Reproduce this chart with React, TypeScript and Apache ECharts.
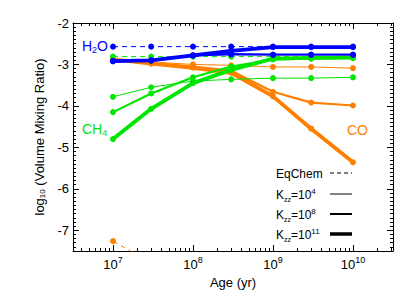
import React, { useEffect, useRef } from "react";
import * as echarts from "echarts";

const AGES = [1e7, 3e7, 1e8, 3e8, 1e9, 3e9, 1e10];

const H2O_EQ = [-2.57, -2.57, -2.57, -2.57, -2.57, -2.57, -2.57];
const H2O_K4 = [-2.92, -2.91, -2.79, -2.76, -2.77, -2.77, -2.77];
const H2O_K8 = [-2.92, -2.90, -2.78, -2.75, -2.76, -2.76, -2.76];
const H2O_K11 = [-2.92, -2.90, -2.78, -2.67, -2.58, -2.58, -2.58];

const CH4_EQ = [-2.81, -2.81, -2.81, -2.81, -2.81, -2.81, -2.81];
const CH4_K4 = [-3.78, -3.55, -3.40, -3.36, -3.33, -3.33, -3.31];
const CH4_K8 = [-4.15, -3.70, -3.31, -3.05, -2.88, -2.86, -2.85];
const CH4_K11 = [-4.80, -4.07, -3.45, -3.13, -2.86, -2.84, -2.83];

const CO_EQ = [-7.26, -7.79, -8.3, -8.8, -9.3, -9.8, -10.2];
const CO_K4 = [-2.88, -2.94, -3.0, -3.02, -3.06, -3.06, -3.09];
const CO_K8 = [-2.88, -2.96, -3.05, -3.15, -3.66, -3.92, -3.99];
const CO_K11 = [-2.88, -2.98, -3.08, -3.2, -3.77, -4.55, -5.36];

const X_MAJOR = [7, 8, 9, 10];
const Y_MAJOR = [-7, -6, -5, -4, -3, -2];

const BLUE = "#0000ff";
const GREEN = "#00e600";
const ORANGE = "#ff8000";
const FONT = "Liberation Sans";

const X_MIN = 6.5;
const X_MAX = 10.5;
const Y_MIN = -7.5;
const Y_MAX = -2;

function xMinorTicks(): number[] {
  const out: number[] = [];
  for (let d = 6; d <= 10; d++) {
    for (let k = 2; k <= 9; k++) {
      const v = d + Math.log10(k);
      if (v > X_MIN && v < X_MAX) out.push(v);
    }
  }
  return out;
}

function yMinorTicks(): number[] {
  const out: number[] = [];
  for (let i = -75; i <= -20; i++) {
    if (i % 10 !== 0) out.push(i / 10);
  }
  return out;
}

function mkSeries(vals: number[], color: string, kind: string, z: number) {
  const widths: Record<string, number> = { eq: 1, k4: 1, k8: 2.2, k11: 3.8 };
  return {
    type: "line",
    data: AGES.map((a, i) => [Math.log10(a), vals[i]]),
    xAxisIndex: 0,
    yAxisIndex: 0,
    symbol: "circle",
    symbolSize: 6,
    showSymbol: true,
    clip: true,
    z,
    itemStyle: { color },
    lineStyle: {
      color,
      width: widths[kind],
      type: kind === "eq" ? [5, 4] : "solid",
    },
  };
}

function xAxisDef(position: "bottom" | "top", major: boolean) {
  return {
    type: "value",
    position,
    min: X_MIN,
    max: X_MAX,
    axisLine: { show: major, lineStyle: { color: "#000", width: 1 } },
    splitLine: { show: false },
    axisTick: {
      show: true,
      inside: true,
      length: major ? 6 : 3,
      lineStyle: { color: "#000", width: 1 },
      customValues: major ? X_MAJOR : xMinorTicks(),
    },
    axisLabel:
      major && position === "bottom"
        ? {
            show: true,
            customValues: X_MAJOR,
            margin: 4,
            formatter: (v: number) => "{m|10}{s|" + Math.round(v) + "}",
            rich: {
              m: { fontSize: 13, fontFamily: FONT, color: "#000" },
              s: {
                fontSize: 9,
                fontFamily: FONT,
                color: "#000",
                padding: [0, 0, 10, 0],
              },
            },
          }
        : { show: false },
    name: major && position === "bottom" ? "Age (yr)" : "",
    nameLocation: "middle",
    nameGap: 21,
    nameTextStyle: { fontSize: 13, fontFamily: FONT, color: "#000" },
  };
}

function yAxisDef(position: "left" | "right", major: boolean) {
  return {
    type: "value",
    position,
    min: Y_MIN,
    max: Y_MAX,
    axisLine: { show: major, lineStyle: { color: "#000", width: 1 } },
    splitLine: { show: false },
    axisTick: {
      show: true,
      inside: true,
      length: major ? 6 : 3,
      lineStyle: { color: "#000", width: 1 },
      customValues: major ? Y_MAJOR : yMinorTicks(),
    },
    axisLabel:
      major && position === "left"
        ? {
            show: true,
            customValues: Y_MAJOR,
            margin: 4,
            fontSize: 13,
            fontFamily: FONT,
            color: "#000",
          }
        : { show: false },
    name: major && position === "left" ? "log{s|10} (Volume Mixing Ratio)" : "",
    nameLocation: "middle",
    nameGap: 24,
    nameRotate: 90,
    nameTextStyle: {
      fontSize: 13,
      fontFamily: FONT,
      color: "#000",
      rich: {
        s: { fontSize: 8, fontFamily: FONT, color: "#000", padding: [6, 0, 0, 0] },
      },
    },
  };
}

function legendEntry(label: string, sup: string, y: number, width: number, dashed: boolean) {
  const items: any[] = [];
  items.push({
    type: "text",
    x: 276,
    y,
    style: {
      text: sup ? "K{sub|zz}=10{sup|" + sup + "}" : label,
      fill: "#000",
      fontSize: 12,
      fontFamily: FONT,
      verticalAlign: "middle",
      rich: {
        sub: { fontSize: 7, fontFamily: FONT, fill: "#000", padding: [9, 0, 0, 0] },
        sup: { fontSize: 8, fontFamily: FONT, fill: "#000", padding: [0, 0, 8, 0] },
      },
    },
  });
  items.push({
    type: "line",
    shape: { x1: 330, y1: y - 1, x2: 352, y2: y - 1 },
    style: {
      stroke: "#000",
      lineWidth: width,
      lineDash: dashed ? [4, 3] : null,
    },
  });
  return items;
}

function speciesLabel(text: string, x: number, y: number, color: string) {
  return {
    type: "text",
    x,
    y,
    style: {
      text,
      fill: color,
      fontSize: 14,
      fontFamily: FONT,
      verticalAlign: "middle",
      rich: {
        s: { fontSize: 9, fontFamily: FONT, fill: color, padding: [8, 0, 0, 0] },
      },
    },
  };
}

export default function App() {
  const ref = useRef<HTMLDivElement>(null);
  useEffect(() => {
    document.body.style.margin = "0";
    if (!ref.current) return;
    const chart = echarts.init(ref.current, null, { renderer: "svg" });
    chart.setOption({
      animation: false,
      backgroundColor: "#fff",
      grid: { left: 73, right: 22, top: 23, bottom: 46 },
      xAxis: [
        xAxisDef("bottom", true),
        xAxisDef("bottom", false),
        xAxisDef("top", true),
        xAxisDef("top", false),
      ],
      yAxis: [
        yAxisDef("left", true),
        yAxisDef("left", false),
        yAxisDef("right", true),
        yAxisDef("right", false),
      ],
      series: [
        mkSeries(CO_EQ, ORANGE, "eq", 2),
        mkSeries(CO_K4, ORANGE, "k4", 2),
        mkSeries(CO_K8, ORANGE, "k8", 2),
        mkSeries(CO_K11, ORANGE, "k11", 2),
        mkSeries(CH4_EQ, GREEN, "eq", 3),
        mkSeries(CH4_K4, GREEN, "k4", 3),
        mkSeries(CH4_K8, GREEN, "k8", 3),
        mkSeries(CH4_K11, GREEN, "k11", 3),
        mkSeries(H2O_EQ, BLUE, "eq", 4),
        mkSeries(H2O_K4, BLUE, "k4", 4),
        mkSeries(H2O_K8, BLUE, "k8", 4),
        mkSeries(H2O_K11, BLUE, "k11", 4),
      ],
      graphic: [
        speciesLabel("H{s|2}O", 82, 46, BLUE),
        speciesLabel("CH{s|4}", 82, 129, GREEN),
        speciesLabel("CO", 347, 130, ORANGE),
        ...legendEntry("EqChem", "", 174, 1, true),
        ...legendEntry("", "4", 195, 1, false),
        ...legendEntry("", "8", 215, 2, false),
        ...legendEntry("", "11", 235, 3.5, false),
      ],
    });
    return () => chart.dispose();
  }, []);
  return <div ref={ref} style={{ width: 415, height: 297 }} />;
}
